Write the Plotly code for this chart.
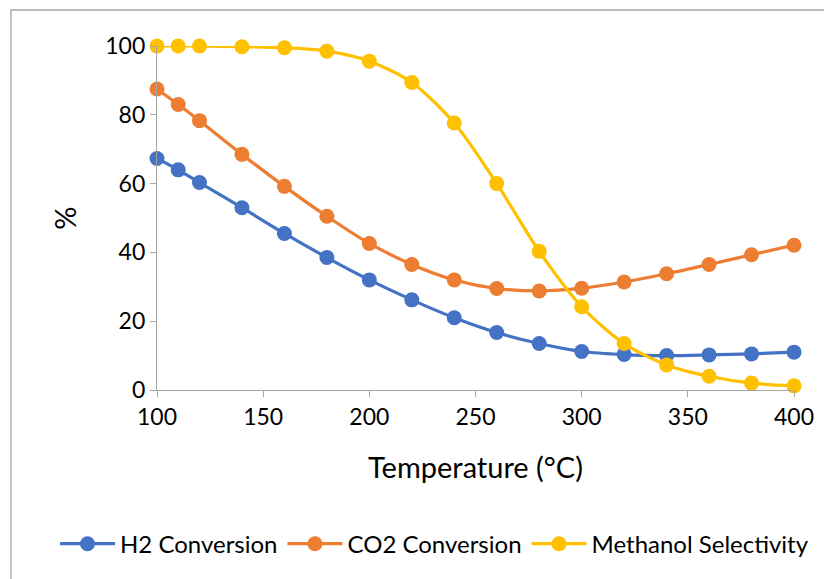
import plotly.graph_objects as go

temperature = [100, 110, 120, 140, 160, 180, 200, 220, 240, 260, 280, 300, 320, 340, 360, 380, 400]
h2_conversion = [67.3, 64.0, 60.3, 53.0, 45.5, 38.5, 32.0, 26.2, 21.0, 16.7, 13.5, 11.2, 10.3, 10.0, 10.2, 10.5, 11.0]
co2_conversion = [87.5, 83.0, 78.3, 68.5, 59.2, 50.5, 42.6, 36.5, 32.0, 29.5, 28.8, 29.6, 31.4, 33.8, 36.5, 39.3, 42.1]
methanol_selectivity = [100.0, 100.0, 100.0, 99.8, 99.5, 98.5, 95.6, 89.4, 77.6, 60.0, 40.3, 24.2, 13.5, 7.3, 4.0, 2.0, 1.2]

series = [
    ("H2 Conversion", h2_conversion, "#4472C4"),
    ("CO2 Conversion", co2_conversion, "#ED7D31"),
    ("Methanol Selectivity", methanol_selectivity, "#FFC000"),
]

FONT = "Lato, Open Sans, sans-serif"
fig = go.Figure()
for name, vals, color in series:
    fig.add_trace(go.Scatter(
        x=temperature, y=vals, name=name, mode="lines+markers",
        line=dict(color=color, width=3.2, shape="spline", smoothing=0.8),
        marker=dict(color=color, size=15),
        cliponaxis=False,
    ))

# page body has an 8px offset; margins compensate so the plot area matches
fig.update_layout(
    width=832, height=579,
    margin=dict(l=149, r=46, t=38, b=197),
    paper_bgcolor="white", plot_bgcolor="white",
    font=dict(family=FONT, color="#000000", size=23),
    showlegend=True,
    legend=dict(orientation="h", x=(55 - 157) / 637, xanchor="left", y=-0.448, yanchor="middle",
                font=dict(size=24, family=FONT), itemwidth=55, tracegroupgap=0,
                bgcolor="rgba(0,0,0,0)"),
    xaxis=dict(range=[100, 400], tickvals=[100, 150, 200, 250, 300, 350, 400],
               showgrid=False, zeroline=False, showline=True, linecolor="#A6A6A6", linewidth=1.3,
               ticks="outside", ticklen=6, tickcolor="#A6A6A6",
               tickfont=dict(size=23, family=FONT),
               title=dict(text="Temperature (°C)", font=dict(size=29, family=FONT), standoff=28)),
    yaxis=dict(range=[0, 100], tickvals=[0, 20, 40, 60, 80, 100],
               showgrid=False, zeroline=False, showline=True, linecolor="#A6A6A6", linewidth=1.3,
               ticks="outside", ticklen=6, tickcolor="#A6A6A6",
               tickfont=dict(size=23, family=FONT),
               title=dict(text="%", font=dict(size=29, family=FONT), standoff=20)),
    shapes=[dict(type="rect", xref="paper", yref="paper",
                 x0=(11 - 157) / 637, x1=(845 - 157) / 637,
                 y0=(390 - 600) / 344, y1=(390 - 10) / 344,
                 line=dict(color="#A6A6A6", width=1.3), fillcolor="rgba(0,0,0,0)", layer="below")],
)

fig.write_html("out.html")
